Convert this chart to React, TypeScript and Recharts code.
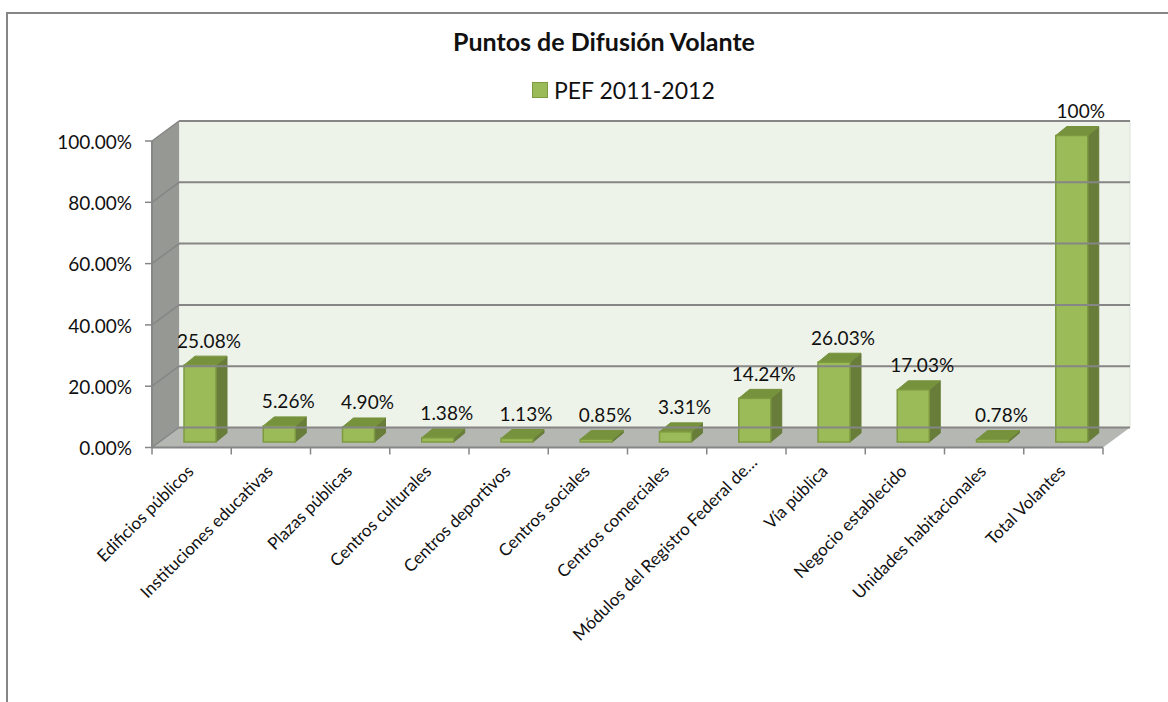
import React from 'react';
import { BarChart, Bar, XAxis, YAxis, ReferenceArea, ReferenceLine, LabelList, Legend } from 'recharts';

const categories = ['Edificios públicos', 'Instituciones educativas', 'Plazas públicas', 'Centros culturales', 'Centros deportivos', 'Centros sociales', 'Centros comerciales', 'Módulos del Registro Federal de…', 'Vía pública', 'Negocio establecido', 'Unidades habitacionales', 'Total Volantes'];
const values = [25.08, 5.26, 4.9, 1.38, 1.13, 0.85, 3.31, 14.24, 26.03, 17.03, 0.78, 100];
const valueLabels = ['25.08%', '5.26%', '4.90%', '1.38%', '1.13%', '0.85%', '3.31%', '14.24%', '26.03%', '17.03%', '0.78%', '100%'];
const yTicks = [0, 20, 40, 60, 80, 100];
const seriesName = 'PEF 2011-2012';
const titleText = 'Puntos de Difusión Volante';

const data = categories.map((name, i) => ({ name, value: values[i], label: valueLabels[i] }));

const FONT = 'Lato, "Open Sans", sans-serif';
const W = 1168, H = 702;
const PLOT_L = 152, PLOT_R = 1103, PLOT_T = 141, PLOT_B = 447.5;
const DX = 27, DY = -20;
const GREY = '#868686';
const BAND = (PLOT_R - PLOT_L) / categories.length;

const Walls = (p: any) => {
  const { x, y, width, height } = p;
  const b = y + height;
  const r = x + width;
  return (
    <g>
      <rect x={x + DX} y={y + DY} width={width} height={height} fill="#EEF3EA" stroke="#DDE2DA" strokeWidth={1} />
      <polygon points={`${x},${y} ${x + DX},${y + DY} ${x + DX},${b + DY} ${x},${b}`} fill="#969893" />
      <polygon points={`${x},${b} ${x + DX},${b + DY} ${r + DX},${b + DY} ${r},${b}`} fill="#B5B7B2" />
    </g>
  );
};

const GridLine = (p: any) => {
  const { x1, y1, x2 } = p;
  return (
    <g stroke={GREY} fill="none">
      <line x1={x1} y1={y1} x2={x1 + DX} y2={y1 + DY} strokeWidth={1.5} />
      <line x1={x1 + DX} y1={y1 + DY} x2={x2 + DX} y2={y1 + DY} strokeWidth={2} />
    </g>
  );
};

const Bar3D = (p: any) => {
  const { x, y, width, height } = p;
  const ox = 8, oy = -5.5, dx = 11, dy = -9;
  const l = x + ox, t = y + oy, r = l + width, b = t + height;
  return (
    <g>
      <polygon points={`${r},${t} ${r + dx},${t + dy} ${r + dx},${b + dy} ${r},${b}`} fill="#677D39" stroke="#677D39" strokeWidth={1} />
      <polygon points={`${l},${t} ${l + dx},${t + dy} ${r + dx},${t + dy} ${r},${t}`} fill="#76923C" stroke="#76923C" strokeWidth={1} />
      <rect x={l} y={t} width={width} height={height} fill="#9BBB59" stroke="#7E9A40" strokeWidth={1.5} />
    </g>
  );
};

const ValueLabel = (p: any) => {
  const { x, y, width, value } = p;
  return (
    <text x={x + width / 2 + 17} y={y - 23} textAnchor="middle" fontFamily={FONT} fontSize={19} fill="#111">
      {value}
    </text>
  );
};

const CatTick = (p: any) => {
  const { x, y, payload, index } = p;
  const top = y - 8;
  const truncated = String(payload.value).endsWith('…');
  const tx = x + (truncated ? 12 : 3);
  const ty = y + (truncated ? 8 : 17);
  return (
    <g>
      {index === 0 && <line x1={x - BAND / 2} y1={top} x2={x - BAND / 2} y2={top + 7} stroke={GREY} strokeWidth={1.5} />}
      <line x1={x + BAND / 2} y1={top} x2={x + BAND / 2} y2={top + 7} stroke={GREY} strokeWidth={1.5} />
      <text x={tx} y={ty} textAnchor="end" transform={`rotate(-45 ${tx} ${ty})`} fontFamily={FONT} fontSize={17} fill="#111">
        {payload.value}
      </text>
    </g>
  );
};

const LegendContent = (p: any) => {
  const item = p.payload?.[0];
  return (
    <div style={{ display: 'flex', alignItems: 'center', fontFamily: FONT, fontSize: 23, color: '#111', whiteSpace: 'nowrap' }}>
      <span style={{ width: 14, height: 14, background: '#9BBB59', border: '1.5px solid #7E9A40', marginRight: 6, display: 'inline-block' }} />
      {item?.value ?? seriesName}
    </div>
  );
};

export default function App() {
  return (
    <div style={{ position: 'fixed', left: 0, top: 0, width: W, height: H, overflow: 'hidden', background: '#fff' }}>
      <div style={{ position: 'absolute', left: 6, top: 12, width: W, height: H, borderLeft: `2px solid ${GREY}`, borderTop: `2px solid ${GREY}` }} />
      <div style={{ position: 'absolute', left: 453, top: 26, fontFamily: FONT, fontWeight: 700, fontSize: 25, color: '#111', whiteSpace: 'nowrap' }}>{titleText}</div>
      <div style={{ position: 'absolute', left: 0, top: 0 }}>
        <BarChart width={W} height={H} data={data} margin={{ top: PLOT_T, right: W - PLOT_R, bottom: 0, left: 0 }} barSize={32}>
          <XAxis dataKey="name" interval={0} height={H - PLOT_B} tick={<CatTick />} tickLine={false} axisLine={{ stroke: GREY, strokeWidth: 2 }} />
          <YAxis width={PLOT_L} domain={[0, 100]} ticks={yTicks} tickFormatter={(v: number) => `${v.toFixed(2)}%`} tick={{ fontFamily: FONT, fontSize: 19, fill: '#111', dy: 1 }} tickSize={7} tickMargin={13} tickLine={{ stroke: GREY, strokeWidth: 1.5 }} axisLine={{ stroke: GREY, strokeWidth: 2 }} />
          <Legend content={<LegendContent />} layout="horizontal" verticalAlign="middle" align="center" wrapperStyle={{ left: 532, top: 76, width: 220 }} />
          <ReferenceArea y1={0} y2={100} shape={<Walls />} ifOverflow="visible" stroke="none" />
          {yTicks.map((t) => (
            <ReferenceLine key={t} y={t} shape={<GridLine />} ifOverflow="visible" />
          ))}
          <Bar dataKey="value" name={seriesName} fill="#9BBB59" shape={<Bar3D />} isAnimationActive={false}>
            <LabelList dataKey="label" content={<ValueLabel />} />
          </Bar>
        </BarChart>
      </div>
    </div>
  );
}
